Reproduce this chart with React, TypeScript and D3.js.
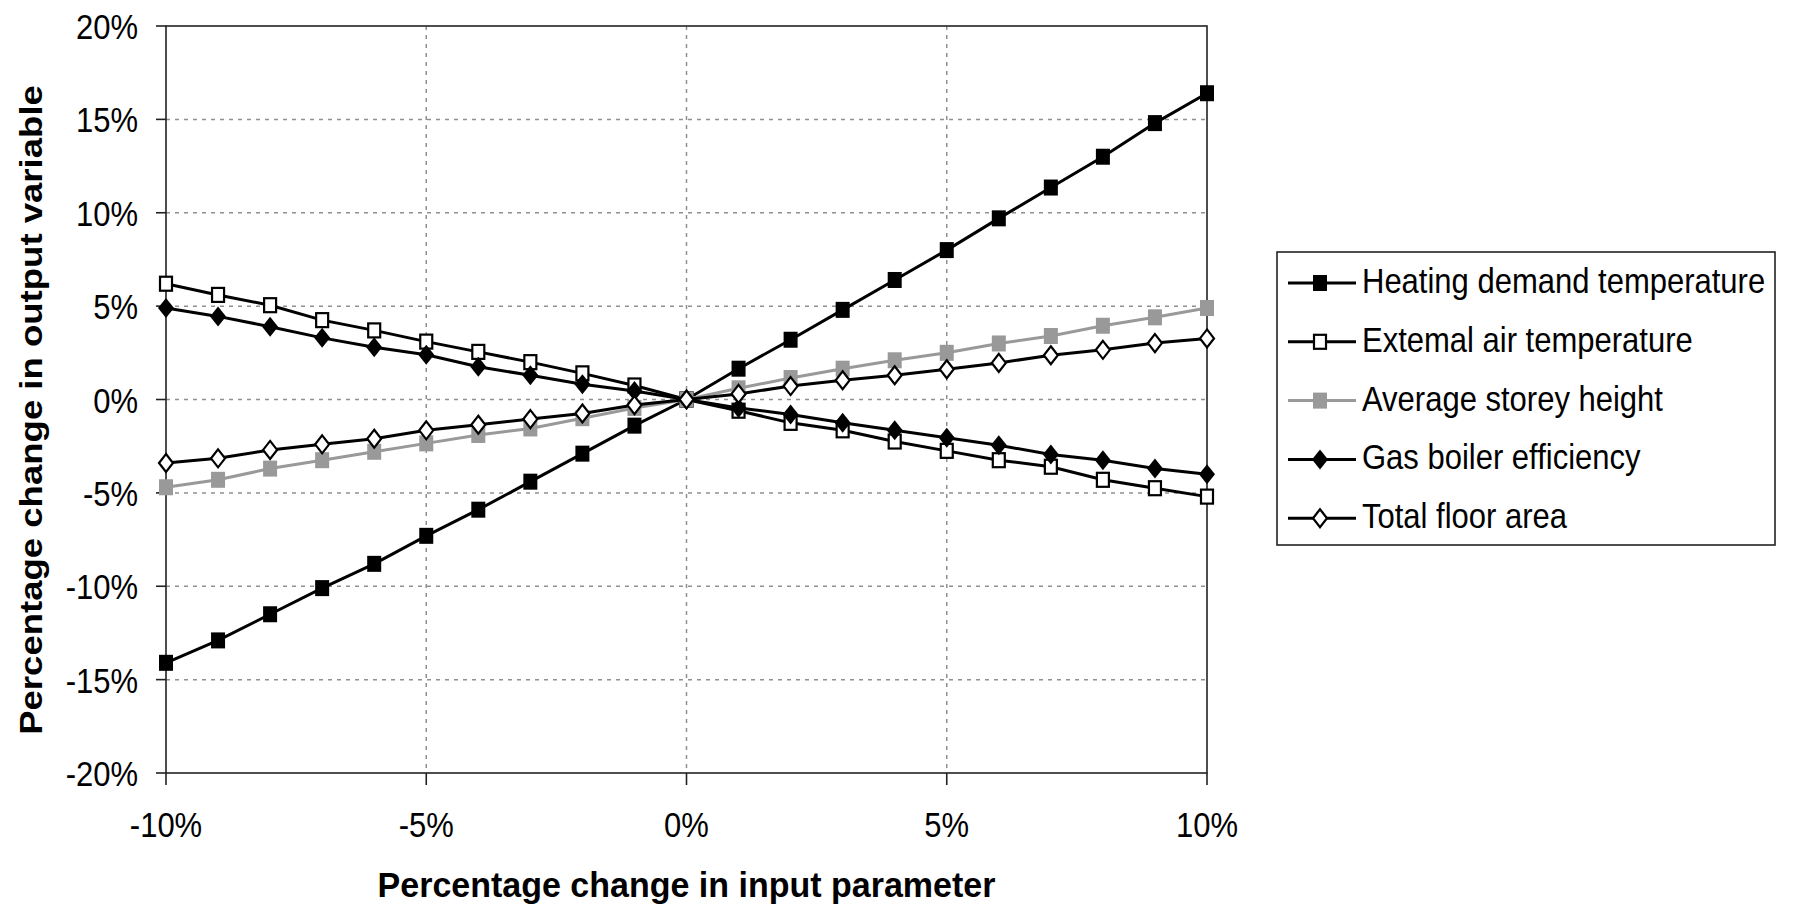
import React from "react";
import * as d3 from "d3";

const xValues = [-10, -9, -8, -7, -6, -5, -4, -3, -2, -1, 0, 1, 2, 3, 4, 5, 6, 7, 8, 9, 10];
const heatingDemand = [-14.1, -12.9, -11.5, -10.1, -8.8, -7.3, -5.9, -4.4, -2.9, -1.4, 0, 1.65, 3.2, 4.8, 6.4, 8.0, 9.7, 11.35, 13.0, 14.8, 16.4];
const externalAir = [6.2, 5.6, 5.05, 4.25, 3.7, 3.1, 2.55, 2.0, 1.4, 0.75, 0, -0.6, -1.25, -1.65, -2.25, -2.75, -3.25, -3.6, -4.3, -4.75, -5.2];
const storeyHeight = [-4.7, -4.3, -3.7, -3.25, -2.8, -2.35, -1.9, -1.55, -1.0, -0.45, 0, 0.6, 1.15, 1.65, 2.1, 2.5, 3.0, 3.4, 3.95, 4.4, 4.9];
const boilerEfficiency = [4.9, 4.45, 3.9, 3.3, 2.8, 2.4, 1.75, 1.3, 0.82, 0.45, 0, -0.45, -0.8, -1.25, -1.65, -2.05, -2.45, -2.95, -3.25, -3.7, -4.0];
const floorArea = [-3.4, -3.15, -2.7, -2.4, -2.1, -1.65, -1.35, -1.05, -0.75, -0.3, 0, 0.3, 0.72, 1.03, 1.3, 1.62, 1.96, 2.37, 2.66, 3.02, 3.27];

const seriesNames = [
  "Heating demand temperature",
  "Extemal air temperature",
  "Average storey height",
  "Gas boiler efficiency",
  "Total floor area",
];
const yTicks = [-20, -15, -10, -5, 0, 5, 10, 15, 20];
const xTicks = [-10, -5, 0, 5, 10];
const xTitle = "Percentage change in input parameter";
const yTitle = "Percentage change in output variable";

type Style = { line: string; marker: "square" | "diamond"; fill: string; stroke: string };
const styles: Style[] = [
  { line: "#000", marker: "square", fill: "#000", stroke: "#000" },
  { line: "#000", marker: "square", fill: "#fff", stroke: "#000" },
  { line: "#999", marker: "square", fill: "#999", stroke: "#999" },
  { line: "#000", marker: "diamond", fill: "#000", stroke: "#000" },
  { line: "#000", marker: "diamond", fill: "#fff", stroke: "#000" },
];

const FONT = "Arial, 'Liberation Sans', sans-serif";
const SY = 1.16;

function Txt(props: { x: number; y: number; anchor?: string; size?: number; bold?: boolean; rotate?: number; sy?: number; children: string }) {
  const { x, y, anchor = "start", size = 31, bold = false, rotate = 0, sy = SY } = props;
  const t = rotate
    ? `translate(${x},${y}) rotate(${rotate}) scale(${sy},1)`
    : `translate(${x},${y}) scale(1,${sy})`;
  return (
    <text transform={t} textAnchor={anchor} fontFamily={FONT} fontSize={size} fontWeight={bold ? "bold" : "normal"} fill="#000">
      {props.children}
    </text>
  );
}

function Marker({ cx, cy, s }: { cx: number; cy: number; s: Style }) {
  if (s.marker === "square") {
    const w = s.fill === "#fff" ? 12 : 14;
    const h = s.fill === "#fff" ? 14 : 16;
    return <rect x={cx - w / 2} y={cy - h / 2} width={w} height={h} fill={s.fill} stroke={s.stroke} strokeWidth={s.fill === "#fff" ? 2.2 : 0} />;
  }
  const w = s.fill === "#fff" ? 7 : 8;
  const h = s.fill === "#fff" ? 9 : 10;
  return (
    <path d={`M${cx},${cy - h}L${cx + w},${cy}L${cx},${cy + h}L${cx - w},${cy}Z`} fill={s.fill} stroke={s.stroke} strokeWidth={s.fill === "#fff" ? 2.2 : 0} />
  );
}

export default function App() {
  const left = 166, right = 1207, top = 26, bottom = 773;
  const x = d3.scaleLinear().domain([-10, 10]).range([left, right]);
  const y = d3.scaleLinear().domain([-20, 20]).range([bottom, top]);
  const allSeries = [heatingDemand, externalAir, storeyHeight, boilerEfficiency, floorArea];
  const line = d3.line<number>().x((_, i) => x(xValues[i])).y((d) => y(d));

  const legX = 1277, legY = 252, legW = 498, legH = 293;
  const rowY = (i: number) => 283 + i * 58.8;

  return (
    <svg width={1798} height={909} style={{ position: "absolute", left: 0, top: 0, background: "#fff" }}>
      <rect x={0} y={0} width={1798} height={909} fill="#fff" />
      {/* gridlines */}
      {yTicks.filter((t) => t !== -20 && t !== 20).map((t) => (
        <line key={"gy" + t} x1={left} x2={right} y1={y(t)} y2={y(t)} stroke="#909090" strokeWidth={1.5} strokeDasharray="4,5" />
      ))}
      {xTicks.filter((t) => t !== -10 && t !== 10).map((t) => (
        <line key={"gx" + t} x1={x(t)} x2={x(t)} y1={top} y2={bottom} stroke="#909090" strokeWidth={1.5} strokeDasharray="4,5" />
      ))}
      {/* plot border */}
      <rect x={left} y={top} width={right - left} height={bottom - top} fill="none" stroke="#222" strokeWidth={1.6} />
      {/* ticks */}
      {yTicks.map((t) => (
        <line key={"ty" + t} x1={left - 10} x2={left} y1={y(t)} y2={y(t)} stroke="#222" strokeWidth={1.6} />
      ))}
      {xTicks.map((t) => (
        <line key={"tx" + t} x1={x(t)} x2={x(t)} y1={bottom} y2={bottom + 12} stroke="#222" strokeWidth={1.6} />
      ))}
      {/* tick labels */}
      {yTicks.map((t) => (
        <Txt key={"ly" + t} x={138} y={y(t) + 13} anchor="end">{`${t}%`}</Txt>
      ))}
      {xTicks.map((t) => (
        <Txt key={"lx" + t} x={x(t)} y={837} anchor="middle">{`${t}%`}</Txt>
      ))}
      {/* axis titles */}
      <Txt x={(left + right) / 2} y={897} anchor="middle" bold size={34} sy={1.05}>{xTitle}</Txt>
      <Txt x={42} y={410} anchor="middle" bold size={31.5} rotate={-90}>{yTitle}</Txt>
      {/* series */}
      {allSeries.map((vals, si) => (
        <g key={"s" + si}>
          <path d={line(vals) || ""} fill="none" stroke={styles[si].line} strokeWidth={3} />
          {vals.map((v, i) => (
            <Marker key={i} cx={x(xValues[i])} cy={y(v)} s={styles[si]} />
          ))}
        </g>
      ))}
      {/* legend */}
      <rect x={legX} y={legY} width={legW} height={legH} fill="#fff" stroke="#222" strokeWidth={1.6} />
      {seriesNames.map((name, i) => (
        <g key={"lg" + i}>
          <line x1={1288} x2={1356} y1={rowY(i)} y2={rowY(i)} stroke={styles[i].line} strokeWidth={3} />
          <Marker cx={1320} cy={rowY(i)} s={styles[i]} />
          <Txt x={1362} y={rowY(i) + 10} size={31}>{name}</Txt>
        </g>
      ))}
    </svg>
  );
}
